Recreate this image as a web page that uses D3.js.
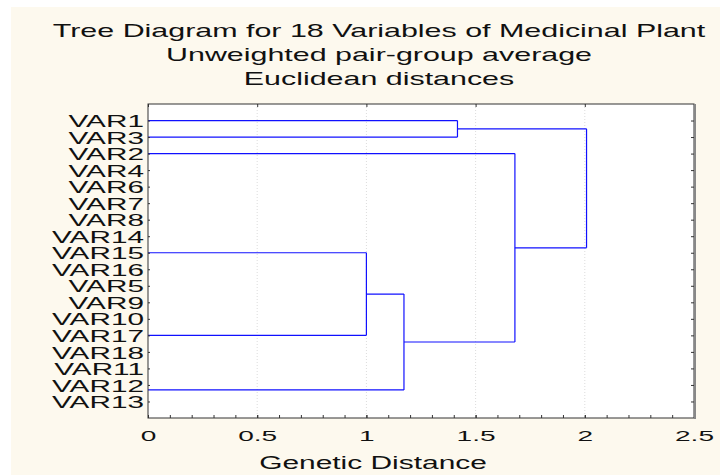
<!DOCTYPE html>
<html>
<head>
<meta charset="utf-8">
<script src="https://cdn.jsdelivr.net/npm/d3@7"></script>
<style>
  body { margin: 0; background: #fff; }
  svg text { font-family: "Liberation Sans", Arial, sans-serif; fill: #111; }
</style>
</head>
<body>
<svg id="chart" width="720" height="475"></svg>
<script>
var width = 720, height = 475;

var titleLines = ["Tree Diagram for 18 Variables of Medicinal Plant",
                  "Unweighted pair-group average",
                  "Euclidean distances"];
var xLabel = "Genetic Distance";

// leaf order, top to bottom
var leaves = ["VAR1", "VAR3", "VAR2", "VAR4", "VAR6", "VAR7", "VAR8", "VAR14",
              "VAR15", "VAR16", "VAR5", "VAR9", "VAR10", "VAR17", "VAR18",
              "VAR11", "VAR12", "VAR13"];

// leaves joined at distance 0, and the row their stem leaves from
var zeroGroups = [
  { id: "G2",  members: ["VAR2", "VAR4", "VAR6", "VAR7", "VAR8", "VAR14"], row: 2 },
  { id: "G15", members: ["VAR15", "VAR16", "VAR5", "VAR9", "VAR10"], row: 8 },
  { id: "G17", members: ["VAR17", "VAR18", "VAR11"], row: 13 },
  { id: "G12", members: ["VAR12", "VAR13"], row: 16.3 }
];

// joins: [left, right, linkage distance, new cluster]
var joins = [
  ["VAR1", "VAR3", 1.417, "C1"],
  ["G15", "G17", 1.0, "C2"],
  ["C2", "G12", 1.172, "C3"],
  ["G2", "C3", 1.68, "C4"],
  ["C1", "C4", 2.008, "C5"]
];

var xTicks = [0, 0.5, 1, 1.5, 2, 2.5];
var xMinor = d3.range(0, 26).map(function(i) { return i / 10; });

var margin = { left: 148, right: 26, top: 104, bottom: 57 };
var plotW = width - margin.left - margin.right,
    plotH = height - margin.top - margin.bottom;

var svg = d3.select("#chart");

// cream page
svg.append("rect").attr("x", 11).attr("y", 7)
   .attr("width", width - 11).attr("height", height - 7)
   .attr("fill", "#fdf9ee");

var x = d3.scaleLinear().domain([0, 2.5]).range([margin.left, margin.left + plotW]);
var y = d3.scalePoint().domain(leaves).range([margin.top, margin.top + plotH]).padding(1);

function rowY(r) { return y(leaves[0]) + r * y.step(); }

// plot area
svg.append("rect")
   .attr("x", margin.left).attr("y", margin.top)
   .attr("width", plotW).attr("height", plotH)
   .attr("fill", "#fff");

// faint grid
svg.append("g").selectAll("line")
   .data(xTicks.slice(1, -1)).enter().append("line")
   .attr("x1", x).attr("x2", x)
   .attr("y1", margin.top).attr("y2", margin.top + plotH)
   .attr("stroke", "#dcdcdc").attr("stroke-width", 1)
   .attr("stroke-dasharray", "1,2");

// node positions
var nodes = {};
leaves.forEach(function(d) { nodes[d] = { y: y(d), h: 0 }; });
zeroGroups.forEach(function(g) { nodes[g.id] = { y: rowY(g.row), h: 0 }; });

var segs = [];
joins.forEach(function(j) {
  var a = nodes[j[0]], b = nodes[j[1]], h = j[2];
  segs.push([a.h, a.y, h, a.y]);
  segs.push([b.h, b.y, h, b.y]);
  segs.push([h, a.y, h, b.y]);
  nodes[j[3]] = { y: (a.y + b.y) / 2, h: h };
});

svg.append("g").selectAll("line")
   .data(segs).enter().append("line")
   .attr("x1", function(d) { return x(d[0]); })
   .attr("y1", function(d) { return d[1]; })
   .attr("x2", function(d) { return x(d[2]); })
   .attr("y2", function(d) { return d[3]; })
   .attr("stroke", "#1010ff").attr("stroke-width", 1.2);

// axes
var axMinor = svg.append("g")
   .attr("transform", "translate(0," + (margin.top + plotH) + ")")
   .call(d3.axisBottom(x).tickValues(xMinor).tickSize(-3).tickFormat(""));
var axBottom = svg.append("g")
   .attr("transform", "translate(0," + (margin.top + plotH) + ")")
   .call(d3.axisBottom(x).tickValues(xTicks).tickSizeInner(-3).tickSizeOuter(0)
         .tickPadding(12).tickFormat(d3.format("")));
var axTop = svg.append("g")
   .attr("transform", "translate(0," + margin.top + ")")
   .call(d3.axisTop(x).tickValues(xTicks).tickSize(-3).tickFormat(""));
var axLeft = svg.append("g")
   .attr("transform", "translate(" + margin.left + ",0)")
   .call(d3.axisLeft(y).tickSizeInner(-2).tickSizeOuter(0).tickPadding(2.3));
var axRight = svg.append("g")
   .attr("transform", "translate(" + (margin.left + plotW) + ",0)")
   .call(d3.axisRight(y).tickSize(-3).tickFormat(""));

[axMinor, axBottom, axTop, axLeft, axRight].forEach(function(g) {
  g.select(".domain").remove();
  g.selectAll(".tick line").attr("stroke", "#333");
});

axBottom.selectAll("text")
   .attr("font-size", 15).attr("fill", "#111")
   .attr("font-family", "Liberation Sans, Arial, sans-serif")
   .attr("transform", "scale(1.87,1)");

axLeft.selectAll("text")
   .attr("font-size", 17).attr("fill", "#111")
   .attr("font-family", "Liberation Sans, Arial, sans-serif")
   .attr("dy", "0.36em")
   .attr("transform", "scale(1.75,1)");

// frame
svg.append("rect")
   .attr("x", margin.left).attr("y", margin.top)
   .attr("width", plotW).attr("height", plotH)
   .attr("fill", "none").attr("stroke", "#333").attr("stroke-width", 1);
svg.append("line")
   .attr("x1", margin.left + plotW + 1).attr("x2", margin.left + plotW + 1)
   .attr("y1", margin.top).attr("y2", margin.top + plotH + 1)
   .attr("stroke", "#888").attr("stroke-width", 2);

// titles
svg.append("g").selectAll("g")
   .data(titleLines).enter().append("g")
   .attr("transform", function(d, i) { return "translate(379," + (37 + i * 24) + ") scale(1.69,1)"; })
   .append("text")
   .attr("text-anchor", "middle").attr("font-size", 18)
   .text(function(d) { return d; });

svg.append("g")
   .attr("transform", "translate(373,469) scale(1.69,1)")
   .append("text")
   .attr("text-anchor", "middle").attr("font-size", 17.7)
   .text(xLabel);
</script>
</body>
</html>
